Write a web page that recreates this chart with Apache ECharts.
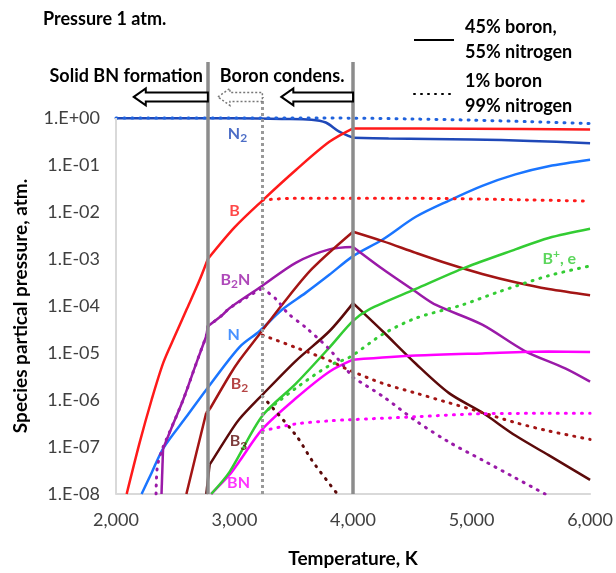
<!DOCTYPE html>
<html>
<head>
<meta charset="utf-8">
<script src="https://cdn.jsdelivr.net/npm/echarts@6.0.0/dist/echarts.min.js"></script>
<style>
html, body { margin: 0; padding: 0; background: #fff; }
#chart { width: 616px; height: 573px; }
</style>
</head>
<body>
<div id="chart"></div>
<script>
// [temperature K, partial pressure atm]; solid = 45% B / 55% N, dotted = 1% B / 99% N
const n2Solid = [[2000, 0.99], [3000, 0.98], [3400, 0.95], [3650, 0.92], [3770, 0.8], [3880, 0.52], [4000, 0.38], [4300, 0.365], [5000, 0.35], [5500, 0.325], [6000, 0.29]]
const n2Dotted = [[2000, 1.0], [3000, 1.0], [4000, 0.99], [4500, 0.95], [5000, 0.9], [5500, 0.83], [6000, 0.76]]
const bSolid = [[2090, 1e-8], [2200, 1.25e-7], [2300, 1.0e-6], [2400, 6.3e-6], [2500, 2.4e-5], [2600, 8.9e-5], [2700, 3.3e-4], [2775, 1e-3], [3000, 4.7e-3], [3235, 1.75e-2], [3520, 7.9e-2], [3800, 0.31], [4000, 0.6], [5000, 0.59], [6000, 0.57]]
const bDotted = [[3235, 1.8e-2], [3500, 1.95e-2], [4500, 1.95e-2], [5500, 1.8e-2], [6000, 1.7e-2]]
const nSolid = [[2216, 1e-8], [2300, 2.8e-8], [2400, 9.5e-8], [2600, 4.6e-7], [2760, 1.63e-6], [3040, 1.32e-5], [3210, 2.9e-5], [3400, 8.3e-5], [3600, 1.9e-4], [3800, 4.6e-4], [4000, 1.15e-3], [4250, 2.6e-3], [4530, 7.9e-3], [4810, 1.75e-2], [5090, 3.6e-2], [5370, 6.3e-2], [5650, 9.4e-2], [6000, 0.129]]
const b2nSolid = [[2384, 1e-8], [2397, 9.2e-8], [2480, 3.0e-7], [2566, 1e-6], [2680, 6.3e-6], [2762, 2.3e-5], [2775, 3.7e-5], [2900, 6.5e-5], [2960, 9.1e-5], [3235, 2.7e-4], [3520, 8.4e-4], [3800, 1.6e-3], [4000, 1.8e-3], [4250, 6.1e-4], [4530, 2e-4], [4700, 1.05e-4], [5090, 4e-5], [5450, 1.1e-5], [5790, 4.7e-6], [6000, 2.45e-6]]
const b2nDotted = [[2338, 1e-8], [2350, 4e-8], [2397, 1e-7], [2566, 1e-6], [2680, 6.3e-6], [2762, 2.3e-5], [2775, 3.7e-5], [2900, 6.5e-5], [2960, 9.1e-5], [3235, 2.4e-4], [3350, 1.4e-4], [3450, 7e-5], [3600, 3.5e-5], [3800, 1.2e-5], [4000, 3e-6], [4250, 1.2e-6], [4530, 3.6e-7], [4810, 1.27e-7], [5090, 5.3e-8], [5370, 2.2e-8], [5620, 1e-8]]
const b2Solid = [[2594, 1e-8], [2680, 7.8e-8], [2762, 5.4e-7], [2790, 6.3e-7], [2960, 3.4e-6], [3040, 6.9e-6], [3210, 2.5e-5], [3400, 1.05e-4], [3655, 6.2e-4], [4000, 3.8e-3], [4250, 2.4e-3], [4530, 1.35e-3], [4810, 7.8e-4], [5090, 4.8e-4], [5370, 3.2e-4], [5650, 2.3e-4], [6000, 1.7e-4]]
const b2Dotted = [[3235, 2.4e-5], [3520, 1.3e-5], [3800, 6.9e-6], [3970, 4.3e-6], [4250, 2.26e-6], [4530, 1.4e-6], [4810, 8.7e-7], [5090, 5.4e-7], [5370, 3.3e-7], [5650, 2.2e-7], [6000, 1.45e-7]]
const b3Solid = [[2762, 1e-8], [2790, 4.2e-8], [2960, 2e-7], [3040, 3.9e-7], [3235, 1.29e-6], [3520, 6.9e-6], [3800, 2.9e-5], [4000, 1.15e-4], [4250, 2.9e-5], [4530, 5.9e-6], [4810, 1.4e-6], [5090, 5.4e-7], [5370, 1.75e-7], [5650, 6.7e-8], [6000, 2e-8]]
const b3Dotted = [[3235, 1.2e-6], [3520, 1.75e-7], [3660, 4.9e-8], [3868, 1e-8]]
const bnSolid = [[2803, 1e-8], [2960, 2.6e-8], [3040, 4.9e-8], [3235, 2.4e-7], [3520, 1.1e-6], [3800, 4e-6], [4000, 7.2e-6], [4530, 8.8e-6], [5090, 9.8e-6], [5650, 1.07e-5], [6000, 1.05e-5]]
const bnDotted = [[3235, 2.2e-7], [3520, 3.1e-7], [3800, 3.6e-7], [3970, 3.8e-7], [4530, 4.4e-7], [5090, 5.1e-7], [5650, 5.2e-7], [6000, 5.2e-7]]
const bPlusSolid = [[2803, 1e-8], [2960, 3e-8], [3235, 4.6e-7], [3520, 2.26e-6], [3800, 1.3e-5], [4000, 4.8e-5], [4130, 8.3e-5], [4530, 2.3e-4], [4950, 6.6e-4], [5370, 1.6e-3], [5650, 2.8e-3], [6000, 4.4e-3]]
const bPlusDotted = [[3235, 5e-7], [3520, 1.8e-6], [3800, 5.4e-6], [3970, 8.1e-6], [4250, 2.5e-5], [4530, 5.5e-5], [4920, 1.05e-4], [5230, 2e-4], [5650, 4.4e-4], [6000, 7.1e-4]]

// species labels placed in the plot
const labelNames = ['N{s|2}', 'B', 'B{s|2}N', 'N', 'B{s|2}', 'B{s|3}', 'BN', 'B{p|+}, e']
const labelT = [3025, 3000, 3008, 2992, 3042, 3034, 3034, 5740]
const labelP = [0.47, 0.0105, 3.6e-4, 2.4e-5, 2.2e-6, 1.33e-7, 1.7e-8, 1.0e-3]
const labelColors = ['#1f48b8', '#ff1a1a', '#9a1aa8', '#1a75ff', '#a31515', '#5c0a0a', '#ff00ff', '#33cc33']

const xTicks = [2000, 3000, 4000, 5000, 6000]
const boundaryT = [2775, 4000]   // solid BN formation, boron condensation (45% B)
const dottedBoundaryT = 3235     // boron condensation (1% B)
const legendSolid = '45% boron,\n55% nitrogen'
const legendDotted = '1% boron\n99% nitrogen'

const font = 'Lato'
const yMax = 15.5
const arrowP = 2.8

// one smoothed line series per piece between corners, so the corners stay sharp
function curve(name, data, color, dotted, corners) {
    corners = corners || []
    const pieces = []
    let piece = []
    data.forEach(p => {
        piece.push(p)
        if (corners.indexOf(p[0]) >= 0 && piece.length > 1) {
            pieces.push(piece)
            piece = [p]
        }
    })
    if (piece.length > 1) pieces.push(piece)
    return pieces.map((d, i) => ({
        name: name,
        id: name + '-' + i,
        type: 'line',
        data: d,
        symbol: 'none',
        smooth: 0.3,
        silent: true,
        z: dotted ? 3 : 2,
        itemStyle: { color: color },
        lineStyle: dotted
            ? { color: color, width: 3, type: [1, 7], cap: 'round' }
            : { color: color, width: 2.5 },
    }))
}

const chart = echarts.init(document.getElementById('chart'), null, { renderer: 'canvas' })

const option = {
    animation: false,
    textStyle: { fontFamily: font },
    title: {
        text: 'Pressure 1 atm.',
        left: 43,
        top: 10,
        padding: 0,
        textStyle: { fontFamily: font, fontSize: 18, fontWeight: 'bold', color: '#000' },
    },
    legend: {
        data: [legendSolid, legendDotted],
        orient: 'vertical',
        left: 408,
        top: 10,
        itemWidth: 40,
        itemHeight: 2,
        itemGap: 4,
        selectedMode: false,
        itemStyle: { opacity: 0 },
        textStyle: { fontFamily: font, fontSize: 18, fontWeight: 'bold', color: '#000', lineHeight: 25, padding: [0, 0, 0, 6] },
    },
    grid: { left: 116, right: 24, top: 62, bottom: 70 },
    xAxis: {
        type: 'value',
        min: xTicks[0],
        max: xTicks[xTicks.length - 1],
        interval: 1000,
        name: 'Temperature, K',
        nameLocation: 'middle',
        nameGap: 55,
        nameTextStyle: { fontFamily: font, fontSize: 19, fontWeight: 'bold', color: '#000' },
        axisLine: { lineStyle: { color: '#d9d9d9', width: 2 } },
        axisTick: { show: false },
        splitLine: { show: false },
        axisLabel: {
            color: '#404040',
            fontSize: 18,
            fontFamily: font,
            margin: 17,
            formatter: v => v.toLocaleString('en-US'),
        },
    },
    yAxis: {
        type: 'log',
        logBase: 10,
        min: 1e-8,
        max: yMax,
        axisLine: { show: false },
        axisTick: { show: false },
        splitLine: { show: false },
        axisLabel: {
            color: '#404040',
            fontSize: 18,
            fontFamily: font,
            margin: 16,
            formatter: v => {
                if (v > 1.5) return ''
                const e = Math.round(Math.log10(v))
                return '1.E' + (e < 0 ? '-' : '+') + String(Math.abs(e)).padStart(2, '0')
            },
        },
    },
    series: [
        ...curve('N2', n2Solid, '#1f48b8', false, [4000]),
        ...curve('N2 1%', n2Dotted, '#2062dc', true),
        ...curve('B', bSolid, '#ff1a1a', false, [2775, 4000]),
        ...curve('B 1%', bDotted, '#ff1a1a', true),
        ...curve('N', nSolid, '#1a75ff', false),
        ...curve('B2N', b2nSolid, '#9a1aa8', false, [2397, 2762, 2775, 4000]),
        ...curve('B2N 1%', b2nDotted, '#9a1aa8', true, [2397, 2762, 2775, 3235, 4000]),
        ...curve('B2', b2Solid, '#a31515', false, [2762, 2790, 4000]),
        ...curve('B2 1%', b2Dotted, '#a31515', true),
        ...curve('B3', b3Solid, '#5c0a0a', false, [2790, 4000]),
        ...curve('B3 1%', b3Dotted, '#5c0a0a', true),
        ...curve('BN', bnSolid, '#ff00ff', false, [4000]),
        ...curve('BN 1%', bnDotted, '#ff00ff', true),
        ...curve('B+', bPlusSolid, '#33cc33', false),
        ...curve('B+ 1%', bPlusDotted, '#33cc33', true),
        {
            name: legendSolid, type: 'line', data: [], symbol: 'none',
            itemStyle: { color: '#000' }, lineStyle: { color: '#000', width: 2.5 },
        },
        {
            name: legendDotted, type: 'line', data: [], symbol: 'none',
            itemStyle: { color: '#000' }, lineStyle: { color: '#000', width: 3, type: [1, 6], cap: 'round' },
        },
        {
            name: 'guides', type: 'line', data: [], silent: true, z: 5,
            markLine: {
                silent: true,
                symbol: ['none', 'none'],
                label: { show: false },
                animation: false,
                data: [
                    [{ coord: [xTicks[0], 1e-8], lineStyle: { color: '#d9d9d9', width: 2, type: 'solid' } }, { coord: [xTicks[0], 1] }],
                    ...boundaryT.map(t => [{ coord: [t, 1e-8], lineStyle: { color: '#8c8c8c', width: 3.5, type: 'solid' } }, { coord: [t, yMax] }]),
                    [{ coord: [dottedBoundaryT, 1e-8], lineStyle: { color: '#999', width: 3, type: [3, 3] } }, { coord: [dottedBoundaryT, arrowP] }],
                ],
            },
        },
        {
            name: 'labels', type: 'scatter', symbolSize: 0, silent: true, z: 6,
            data: labelNames.map((n, i) => ({ name: n, value: [labelT[i], labelP[i]], label: { color: labelColors[i] } })),
            label: {
                show: true,
                position: 'inside',
                formatter: p => p.name,
                fontFamily: font,
                fontSize: 16,
                fontWeight: 'bold',
                rich: {
                    s: { fontSize: 12, fontWeight: 'bold', fontFamily: font, padding: [9, 0, 0, 0] },
                    p: { fontSize: 12, fontWeight: 'bold', fontFamily: font, padding: [0, 0, 9, 0] },
                },
            },
        },
    ],
}

chart.setOption(option)

// block arrows pointing left, from a boundary line towards lower temperature
function arrow(tipT, tailT, dashed) {
    const a = chart.convertToPixel({ gridIndex: 0 }, [tipT, arrowP])
    const b = chart.convertToPixel({ gridIndex: 0 }, [tailT, arrowP])
    const x0 = a[0], x1 = b[0], y = a[1]
    const hl = 12, hh = 8.5, sh = 4.5
    return {
        type: 'polygon',
        silent: true,
        z: 10,
        shape: {
            points: [[x0, y], [x0 + hl, y - hh], [x0 + hl, y - sh], [x1, y - sh], [x1, y + sh], [x0 + hl, y + sh], [x0 + hl, y + hh]],
        },
        style: dashed
            ? { fill: '#fff', stroke: '#777', lineWidth: 1.5, lineDash: [2, 2] }
            : { fill: '#fff', stroke: '#000', lineWidth: 2 },
    }
}

const gx = chart.convertToPixel({ gridIndex: 0 }, [boundaryT[0], arrowP])
const pTop = chart.convertToPixel({ gridIndex: 0 }, [xTicks[0], 1])
const pBottom = chart.convertToPixel({ gridIndex: 0 }, [xTicks[0], 1e-8])
chart.setOption({
    graphic: [
        arrow(2150, boundaryT[0], false),
        arrow(2860, dottedBoundaryT, true),
        arrow(3395, boundaryT[1], false),
        {
            type: 'text', x: gx[0] - 5, y: 76, silent: true,
            style: { text: 'Solid BN formation', font: 'bold 18px Lato', fill: '#000', align: 'right', verticalAlign: 'middle' },
        },
        {
            type: 'text', x: gx[0] + 12, y: 76, silent: true,
            style: { text: 'Boron condens.', font: 'bold 18px Lato', fill: '#000', align: 'left', verticalAlign: 'middle' },
        },
        {
            // y axis title, centred on the 1.E+00 .. 1.E-08 span
            type: 'text', x: 21, y: (pTop[1] + pBottom[1]) / 2, rotation: Math.PI / 2, silent: true,
            style: { text: 'Species partical pressure, atm.', font: 'bold 19px Lato', fill: '#000', align: 'center', verticalAlign: 'middle' },
        },
    ],
})

window.addEventListener('resize', () => {
    if (chart) chart.resize()
})
</script>
</body>
</html>
